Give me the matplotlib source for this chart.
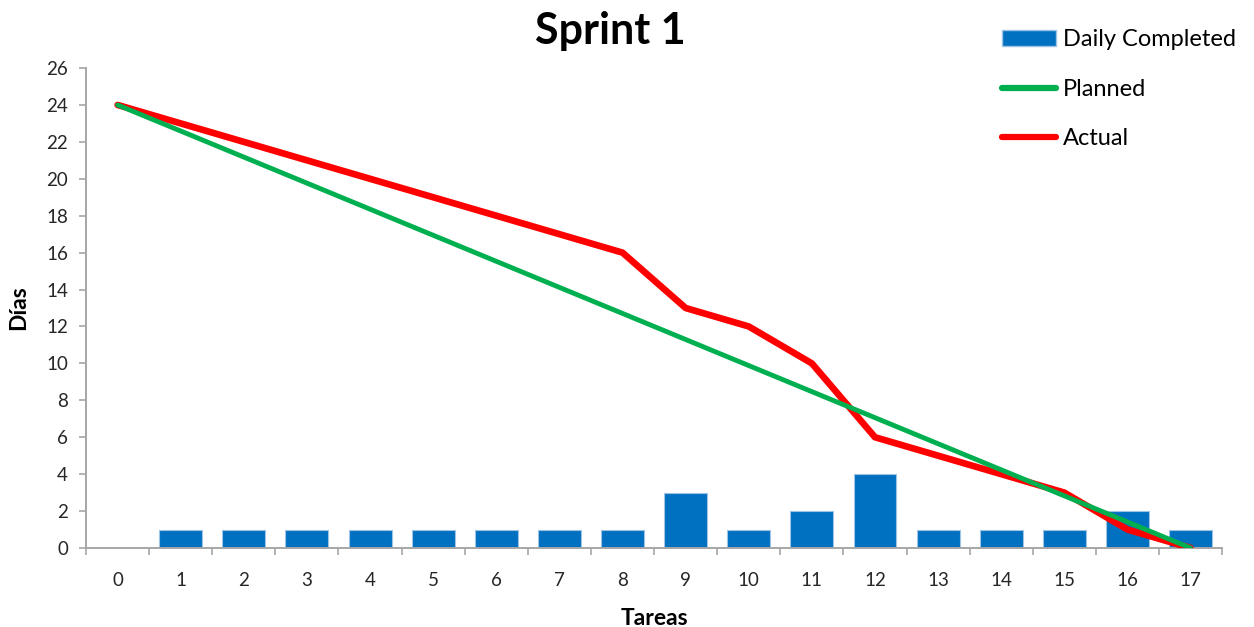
import numpy as np
import matplotlib
matplotlib.use("Agg")
import matplotlib.pyplot as plt
from matplotlib.patches import Patch
from matplotlib.lines import Line2D

plt.rcParams['font.family'] = ['Lato', 'DejaVu Sans']

tareas = list(range(18))
daily_completed = [0, 1, 1, 1, 1, 1, 1, 1, 1, 3, 1, 2, 4, 1, 1, 1, 2, 1]
planned = [24 - 24 / 17 * t for t in tareas]
actual = [24, 23, 22, 21, 20, 19, 18, 17, 16, 13, 12, 10, 6, 5, 4, 3, 1, 0]
y_ticks = list(range(0, 27, 2))

blue = '#0070C0'
green = '#00B050'
red = '#FF0000'
grey = '#A6A6A6'

fig = plt.figure(figsize=(12.54, 6.27), dpi=100)
ax = fig.add_axes([0.0686, 0.126, 0.906, 0.7655])

ax.bar(tareas, daily_completed, width=0.68, color=blue, edgecolor='#9DC3E6',
       linewidth=0.8, zorder=2)
ax.plot(tareas, actual, color=red, linewidth=4.8, solid_capstyle='round',
        solid_joinstyle='round', zorder=3)
ax.plot(tareas, planned, color=green, linewidth=3.5, solid_capstyle='round',
        zorder=4)

ax.set_xlim(-0.5, 17.5)
ax.set_ylim(0, 26)
ax.set_yticks(y_ticks)
ax.set_xticks(tareas)
ax.set_xticks(np.arange(-0.5, 18, 1), minor=True)
ax.tick_params(axis='x', which='major', length=0, pad=17, labelsize=13.5,
               colors='#262626')
ax.tick_params(axis='x', which='minor', length=5, color=grey, width=1.2)
ax.tick_params(axis='y', length=5, color=grey, width=1.2, pad=8,
               labelsize=13.5, labelcolor='#262626')

for side in ['top', 'right']:
    ax.spines[side].set_visible(False)
for side in ['left', 'bottom']:
    ax.spines[side].set_color(grey)
    ax.spines[side].set_linewidth(1.4)

ax.set_xlabel('Tareas', fontsize=16.5, fontweight='bold', labelpad=14)
ax.set_ylabel('Días', fontsize=16.5, fontweight='bold', labelpad=12)
fig.text(610 / 1254, 1 - 31 / 627, 'Sprint 1', fontsize=31, fontweight='bold',
         ha='center', va='center')

handles = [
    Patch(facecolor=blue, edgecolor='#9DC3E6'),
    Line2D([], [], color=green, linewidth=4.5, solid_capstyle='round'),
    Line2D([], [], color=red, linewidth=4.5, solid_capstyle='round'),
]
fig.legend(handles, ['Daily Completed', 'Planned', 'Actual'],
           loc='upper left', bbox_to_anchor=(993 / 1254, 1 - 20 / 627),
           frameon=False, fontsize=17, handlelength=2.25, handleheight=0.7,
           handletextpad=0.3, labelspacing=1.2, borderaxespad=0)

fig.savefig('out.png', dpi=100)
